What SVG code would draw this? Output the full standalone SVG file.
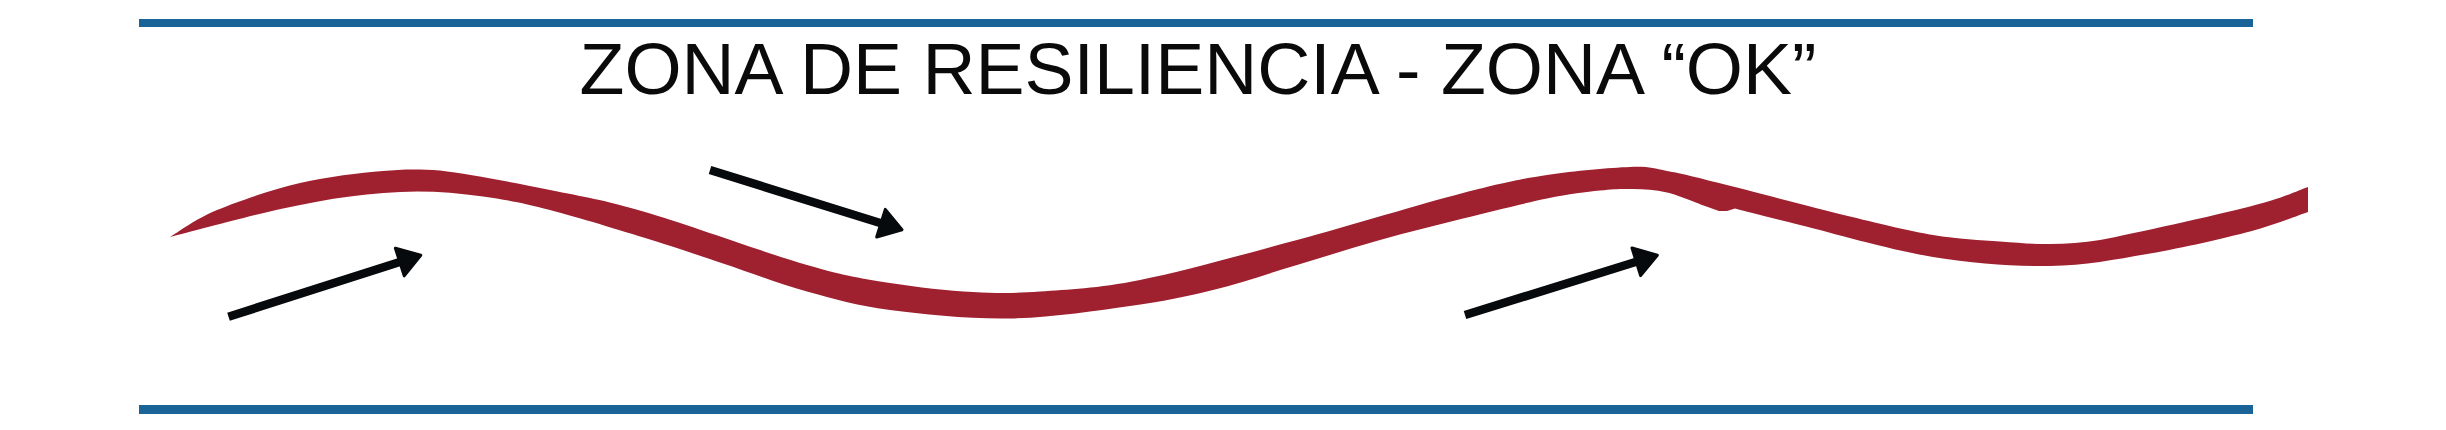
<svg xmlns="http://www.w3.org/2000/svg" width="2446" height="430" viewBox="0 0 2446 430">
  <style>
    .band { fill: #1a6497; }
    .wave { fill: #9f202f; }
    .title { font-family: "Liberation Sans", Arial, sans-serif; font-size: 72px; fill: #0a0a0a; }
    .arrow { stroke: #060a0c; stroke-width: 8.5; stroke-linecap: butt; fill: none; }
  </style>
  <defs>
    <marker id="head" markerUnits="userSpaceOnUse" markerWidth="60" markerHeight="60" refX="0" refY="0" orient="auto" overflow="visible">
      <path d="M0,-14.5 L22,0 L0,14.5 Z" fill="#060a0c" stroke="#060a0c" stroke-width="3" stroke-linejoin="round"/>
    </marker>
  </defs>

  <g id="band-top"><rect class="band" x="139" y="19" width="2114" height="8"/></g>
  <g id="band-bottom"><rect class="band" x="139" y="405" width="2114" height="9"/></g>

  <g id="title">
    <text class="title" x="579.5" y="93.5" textLength="1237" lengthAdjust="spacingAndGlyphs">ZONA DE RESILIENCIA - ZONA “OK”</text>
  </g>

  <g id="wave">
    <path class="wave" d="M170,237
      C177.8,232.5 195.3,219 217,210
      C238.7,201 272.3,189.5 300,183
      C327.7,176.5 359.7,173.1 383,171
      C400,169.5 416,168.8 440,170.5
      C467.8,173.7 515.8,183.1 550,190
      C584.2,196.9 602.2,199.5 645,212
      C687.8,224.5 766.2,253.2 807,265
      C847.8,276.8 862.3,278.5 890,283
      C917.7,287.5 948,290.6 973,292
      C998,293.4 1012.2,293.5 1040,291.5
      C1067.8,289.5 1097.2,288.6 1140,280
      C1182.8,271.4 1243.2,254.5 1297,240
      C1350.8,225.5 1421.3,203.8 1463,193
      C1504.7,182.2 1519.2,179.3 1547,175
      C1574.8,170.7 1610,167.7 1630,167
      C1650,166.3 1652.5,168.4 1667,171
      C1681.5,173.6 1686.5,174.9 1717,182.5
      C1747.5,190.1 1814,207.75 1850,216.5
      C1886,225.25 1908,230.8 1933,235
      C1958,239.2 1980.5,240 2000,241.5
      C2019.5,243 2033.3,244.25 2050,244
      C2066.7,243.75 2083,243 2100,240
      C2133.3,233.75 2215.3,215.3 2250,206.5
      C2284.7,197.7 2298.3,190.25 2308,187
      L2308,212
      C2298.3,215.25 2276.3,224.6 2250,231.5
      C2223.7,238.4 2183.3,247.75 2150,253.5
      C2116.7,259.25 2086.2,265.4 2050,266
      C2013.8,266.6 1974.7,263.8 1933,257
      C1891.3,250.2 1833,233.1 1800,225
      C1767,216.9 1745.8,211.25 1735,208.5
      L1727,211 L1719,211 L1705,206
      C1698.7,203.75 1679,195.3 1667,192.5
      C1655,189.7 1644.2,189.3 1633,189
      C1621.8,188.7 1614.3,188.9 1600,190.5
      C1585.7,192.1 1569.8,193.8 1547,198.5
      C1524.2,203.2 1490.8,211.6 1463,218.5
      C1435.2,225.4 1407.7,232.25 1380,240
      C1352.3,247.75 1324.8,256.7 1297,265
      C1269.2,273.3 1240.8,283.2 1213,290
      C1185.2,296.8 1163.8,301.25 1130,306
      C1096.2,310.75 1050,317.8 1010,318.5
      C970,319.2 923.8,314.5 890,310
      C856.2,305.5 834.8,299.25 807,291.5
      C779.2,283.75 749.2,272.2 723,263.5
      C696.8,254.8 678.8,248.4 650,239.5
      C621.2,230.6 577.8,217.2 550,210
      C522.2,202.8 505.2,199.6 483,196.5
      C460.8,193.4 439.2,191.5 417,191.5
      C394.8,191.5 372.3,193.7 350,196.5
      C327.7,199.3 306.3,203.5 283,208.5
      C259.7,213.5 228.8,221.75 210,226.5
      C191.2,231.25 176.7,235.25 170,237 Z"/>
  </g>

  <g id="arrows">
    <g id="arrow-1"><line class="arrow" x1="228.5" y1="316.7" x2="399.8" y2="262" marker-end="url(#head)"/></g>
    <g id="arrow-2"><line class="arrow" x1="710" y1="170" x2="881" y2="223.2" marker-end="url(#head)"/></g>
    <g id="arrow-3"><line class="arrow" x1="1465" y1="315" x2="1636.3" y2="261.8" marker-end="url(#head)"/></g>
  </g>
</svg>
